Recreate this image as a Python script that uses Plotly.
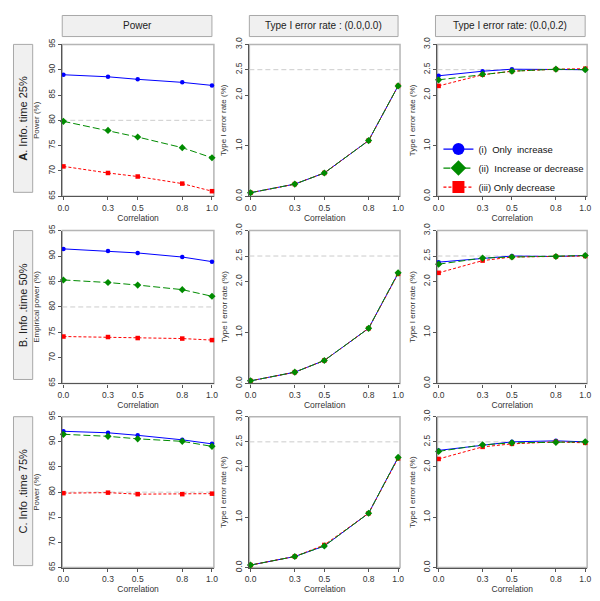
import plotly.graph_objects as go

# ---------------- data ----------------
corr = [0.0, 0.3, 0.5, 0.8, 1.0]
corr_labels = ["0.0", "0.3", "0.5", "0.8", "1.0"]
legend_names = ["(i)\u00a0\u00a0Only\u00a0\u00a0increase",
                "(ii)\u00a0\u00a0Increase or decrease",
                "(iii)\u00a0Only decrease"]

# Row A: info time 25%
powA_inc = [89.0, 88.6, 88.1, 87.5, 86.9]
powA_both = [79.8, 78.0, 76.7, 74.6, 72.6]
powA_dec = [70.9, 69.6, 68.9, 67.5, 66.0]
t1A0_inc = [0.07, 0.24, 0.46, 1.10, 2.18]
t1A0_both = [0.07, 0.24, 0.46, 1.10, 2.18]
t1A0_dec = [0.07, 0.24, 0.46, 1.10, 2.18]
t1A2_inc = [2.38, 2.47, 2.51, 2.51, 2.50]
t1A2_both = [2.30, 2.41, 2.47, 2.51, 2.50]
t1A2_dec = [2.18, 2.40, 2.47, 2.51, 2.52]

# Row B: info time 50%
powB_inc = [91.4, 91.0, 90.6, 89.8, 88.9]
powB_both = [85.3, 84.8, 84.3, 83.4, 82.1]
powB_dec = [74.2, 74.1, 73.9, 73.8, 73.5]
t1B0_inc = [0.05, 0.22, 0.45, 1.08, 2.16]
t1B0_both = [0.05, 0.22, 0.45, 1.08, 2.17]
t1B0_dec = [0.05, 0.22, 0.45, 1.08, 2.15]
t1B2_inc = [2.38, 2.46, 2.50, 2.49, 2.51]
t1B2_both = [2.34, 2.46, 2.48, 2.49, 2.51]
t1B2_dec = [2.17, 2.41, 2.48, 2.49, 2.50]

# Row C: info time 75%
powC_inc = [92.1, 91.8, 91.3, 90.4, 89.6]
powC_both = [91.5, 91.1, 90.6, 90.1, 89.1]
powC_dec = [79.8, 79.9, 79.6, 79.6, 79.7]
t1C0_inc = [0.05, 0.22, 0.43, 1.08, 2.19]
t1C0_both = [0.05, 0.22, 0.43, 1.08, 2.19]
t1C0_dec = [0.05, 0.22, 0.45, 1.08, 2.17]
t1C2_inc = [2.33, 2.44, 2.50, 2.52, 2.50]
t1C2_both = [2.31, 2.44, 2.48, 2.49, 2.50]
t1C2_dec = [2.16, 2.40, 2.46, 2.50, 2.48]

col_titles = ["Power", "Type I error rate : (0.0,0.0)", "Type I error rate: (0.0,0.2)"]
row_titles = ["<b>A</b>. Info. time 25%", "B. Info .time 50%", "C. Info .time 75%"]
y_titles = [["Power (%)", "Type I error rate (%)", "Type I error rate (%)"],
            ["Empirical power (%)", "Type I error rate (%)", "Type I error rate (%)"],
            ["Power (%)", "Type I error rate (%)", "Type I error rate (%)"]]
power_ticks = [65, 70, 75, 80, 85, 90, 95]
power_ticklabels = ["65", "70", "75", "80", "85", "90", "95"]
t1_ticks = [0.0, 1.0, 2.0, 2.5, 3.0]
t1_ticklabels = ["0.0", "1.0", "2.0", "2.5", "3.0"]
power_ref = 80
t1_ref = 2.5

panels = [
    [(powA_inc, powA_both, powA_dec), (t1A0_inc, t1A0_both, t1A0_dec), (t1A2_inc, t1A2_both, t1A2_dec)],
    [(powB_inc, powB_both, powB_dec), (t1B0_inc, t1B0_both, t1B0_dec), (t1B2_inc, t1B2_both, t1B2_dec)],
    [(powC_inc, powC_both, powC_dec), (t1C0_inc, t1C0_both, t1C0_dec), (t1C2_inc, t1C2_both, t1C2_dec)],
]

# ---------------- styling ----------------
# page has an 8px body margin; figure is sized to fill the rest of the window
OFF = 8
W, H = 600 - OFF, 601 - OFF


def fx(px):
    return (px - OFF) / W


def fy(py):
    return 1 - (py - OFF) / H


col_px = [(58, 212), (248, 401), (439, 591)]
row_px = [(38, 193), (228, 384), (418, 572)]
colors = ["#0000FF", "#008B00", "#FF0000"]
symbols = ["circle", "diamond", "square"]
msizes = [4.5, 5.5, 4.5]
dashes = ["solid", "7px,3px", "3px,2px"]
FONT = "Liberation Sans, Arial, sans-serif"

fig = go.Figure()
shapes = []
annotations = []

k = 0
for r in range(3):
    for c in range(3):
        k += 1
        xa = "x" if k == 1 else f"x{k}"
        ya = "y" if k == 1 else f"y{k}"
        xkey = "xaxis" if k == 1 else f"xaxis{k}"
        ykey = "yaxis" if k == 1 else f"yaxis{k}"
        x0, x1 = col_px[c]
        y0, y1 = row_px[r]
        is_power = (c == 0)
        fig.update_layout(**{
            xkey: dict(domain=[fx(x0), fx(x1)], anchor=ya, range=[-0.008, 1.013],
                       tickvals=corr, ticktext=corr_labels, ticks="outside", ticklen=3,
                       tickcolor="#555", showline=True, linecolor="#555", linewidth=1.3,
                       showgrid=False, zeroline=False,
                       tickfont=dict(size=8.5, color="#333", family=FONT),
                       title=dict(text="Correlation", standoff=2,
                                  font=dict(size=8.5, color="#333", family=FONT))),
            ykey: dict(domain=[fy(y1), fy(y0)], anchor=xa,
                       range=[65, 95] if is_power else [0, 3],
                       tickvals=power_ticks if is_power else t1_ticks,
                       ticktext=power_ticklabels if is_power else t1_ticklabels,
                       tickangle=-90, ticks="outside", ticklen=3, tickcolor="#555",
                       showline=True, linecolor="#555", linewidth=1.3,
                       showgrid=False, zeroline=False,
                       tickfont=dict(size=8.5, color="#333", family=FONT),
                       title=dict(text=y_titles[r][c], standoff=5,
                                  font=dict(size=8, color="#333", family=FONT))),
        })
        # light box
        shapes.append(dict(type="rect", xref=f"{xa} domain", yref=f"{ya} domain",
                           x0=0, x1=1, y0=0, y1=1, line=dict(color="#b5b5b5", width=1.5),
                           layer="below"))
        # reference line
        ref = power_ref if is_power else t1_ref
        shapes.append(dict(type="line", xref=f"{xa} domain", yref=ya, x0=0, x1=1,
                           y0=ref, y1=ref, line=dict(color="#cccccc", width=1, dash="5px,3px"),
                           layer="below"))
        data = panels[r][c]
        for i in [0, 2, 1]:
            fig.add_trace(go.Scatter(
                x=corr, y=data[i], xaxis=xa, yaxis=ya, mode="lines+markers",
                line=dict(color=colors[i], width=1, dash=dashes[i]),
                marker=dict(color=colors[i], symbol=symbols[i], size=msizes[i]),
                showlegend=False, cliponaxis=False))

# legend entries (in panel A3)
for i in range(3):
    fig.add_trace(go.Scatter(
        x=[None], y=[None], xaxis="x3", yaxis="y3", mode="lines+markers",
        name=legend_names[i],
        line=dict(color=colors[i], width=1.2, dash=dashes[i]),
        marker=dict(color=colors[i], symbol=symbols[i], size=12),
        showlegend=True))

# header boxes
hdr_px = [(58, 210), (248, 399), (437, 589)]
for c in range(3):
    x0, x1 = hdr_px[c]
    shapes.append(dict(type="rect", xref="paper", yref="paper",
                       x0=fx(x0), x1=fx(x1), y0=fy(30), y1=fy(8.5),
                       fillcolor="#f0f0f0", line=dict(color="#a8a8a8", width=1)))
    annotations.append(dict(xref="paper", yref="paper", x=fx((x0 + x1) / 2),
                            y=fy(19), text=col_titles[c], showarrow=False,
                            xanchor="center", yanchor="middle",
                            font=dict(size=10, color="#222", family=FONT)))

# row label boxes
rowlab_px = [(38, 189), (228, 380), (418, 570)]
for r in range(3):
    y0, y1 = rowlab_px[r]
    shapes.append(dict(type="rect", xref="paper", yref="paper",
                       x0=fx(8.5), x1=fx(28), y0=fy(y1), y1=fy(y0),
                       fillcolor="#f0f0f0", line=dict(color="#a8a8a8", width=1)))
    annotations.append(dict(xref="paper", yref="paper", x=fx(18.5),
                            y=fy((y0 + y1) / 2), text=row_titles[r], showarrow=False,
                            textangle=-90, xanchor="center", yanchor="middle",
                            font=dict(size=11, color="#222", family=FONT)))

fig.update_layout(
    width=W, height=H, margin=dict(l=0, r=0, t=0, b=0),
    paper_bgcolor="white", plot_bgcolor="white",
    shapes=shapes, annotations=annotations,
    showlegend=True,
    legend=dict(x=fx(440), y=fy(130), xanchor="left", yanchor="top",
                bgcolor="rgba(0,0,0,0)", borderwidth=0,
                font=dict(size=9.5, color="#111", family=FONT),
                itemwidth=30, tracegroupgap=0),
)

fig.write_html("out.html")
